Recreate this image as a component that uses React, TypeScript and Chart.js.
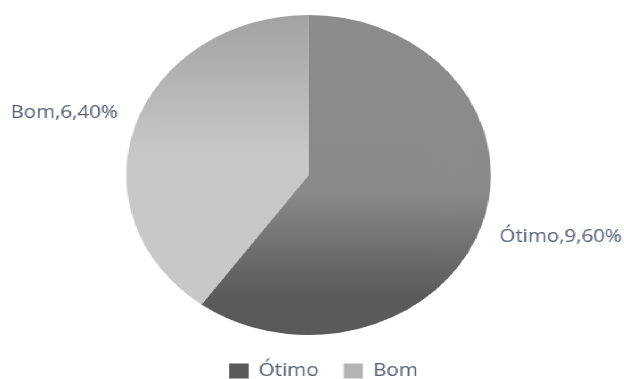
import React, { useEffect, useRef } from "react";
import { Chart, registerables } from "chart.js";

Chart.register(...registerables);

// ---- data ----
const categories = ["Ótimo", "Bom"];
const counts = [9, 6];
const legendColors = ["#5a5a5a", "#b3b3b3"];
const gradientStops: [number, string][][] = [
  [[0, "#8c8c8c"], [0.55, "#8a8a8a"], [0.87, "#5b5b5b"], [1, "#5a5a5a"]],
  [[0, "#a3a3a3"], [0.43, "#c7c7c7"], [1, "#c9c9c9"]],
];

// ---- style ----
const STRETCH = 1.1375;
const W = 624 / STRETCH;
const H = 379;
const RADIUS = 160;
const TEXT = "#566074";
const FONT = "'Open Sans', sans-serif";
const LEGEND_SHIFT = 13;
const LABEL_OFF_X = 16;
const LABEL_OFF_Y = 40;

const total = counts.reduce((a, b) => a + b, 0);
const pct = (v: number) => `${Math.round((v / total) * 100)}%`;

const sliceLabels = {
  id: "sliceLabels",
  afterDatasetsDraw(chart: any) {
    const ctx = chart.ctx;
    const meta = chart.getDatasetMeta(0);
    ctx.save();
    ctx.font = `18px ${FONT}`;
    ctx.fillStyle = TEXT;
    ctx.textBaseline = "middle";
    meta.data.forEach((arc: any, i: number) => {
      const { x, y, startAngle, endAngle, outerRadius } = arc.getProps(
        ["x", "y", "startAngle", "endAngle", "outerRadius"],
        true
      );
      const mid = (startAngle + endAngle) / 2;
      const c = Math.cos(mid);
      const s = Math.sin(mid);
      const lx = x + c * (outerRadius + LABEL_OFF_X);
      const ly = y + s * (outerRadius + LABEL_OFF_Y);
      ctx.textAlign = c >= 0 ? "left" : "right";
      ctx.fillText(`${categories[i]},${counts[i]},${pct(counts[i])}`, lx, ly);
    });
    ctx.restore();
  },
};

const legendShift = {
  id: "legendShift",
  afterLayout(chart: any) {
    const lg = chart.legend;
    if (lg) {
      lg.left += LEGEND_SHIFT;
      lg.right += LEGEND_SHIFT;
    }
  },
};

export default function App() {
  const ref = useRef<HTMLCanvasElement | null>(null);

  useEffect(() => {
    if (!ref.current) return;
    const chart = new Chart(ref.current, {
      type: "pie",
      data: {
        labels: categories,
        datasets: [
          {
            data: counts,
            borderWidth: 0,
            hoverOffset: 0,
            backgroundColor: (context: any) => {
              const ch = context.chart;
              const area = ch.chartArea;
              const i = context.dataIndex ?? 0;
              if (!area) return legendColors[i];
              const cy = (area.top + area.bottom) / 2;
              const g = ch.ctx.createLinearGradient(0, cy - RADIUS, 0, cy + RADIUS);
              gradientStops[i].forEach(([o, col]) => g.addColorStop(o, col));
              return g;
            },
          },
        ],
      },
      options: {
        animation: false,
        responsive: true,
        maintainAspectRatio: false,
        radius: RADIUS,
        layout: { padding: { top: 10, bottom: -11, left: 0, right: 7 } },
        plugins: {
          tooltip: { enabled: false },
          legend: {
            position: "bottom",
            labels: {
              font: { family: FONT, size: 18 },
              color: TEXT,
              boxWidth: 17,
              boxHeight: 15,
              padding: 22,
              generateLabels: (ch: any) =>
                (Chart as any).overrides.pie.plugins.legend.labels
                  .generateLabels(ch)
                  .map((l: any, i: number) => ({
                    ...l,
                    fillStyle: legendColors[i],
                    strokeStyle: legendColors[i],
                    lineWidth: 0,
                    fontColor: TEXT,
                  })),
            },
          },
        },
      } as any,
      plugins: [sliceLabels, legendShift],
    });
    return () => chart.destroy();
  }, []);

  return (
    <div
      style={{
        position: "fixed",
        left: 0,
        top: 0,
        width: W,
        height: H,
        transform: `scaleX(${STRETCH})`,
        transformOrigin: "0 0",
        background: "#ffffff",
      }}
    >
      <canvas ref={ref} />
    </div>
  );
}
